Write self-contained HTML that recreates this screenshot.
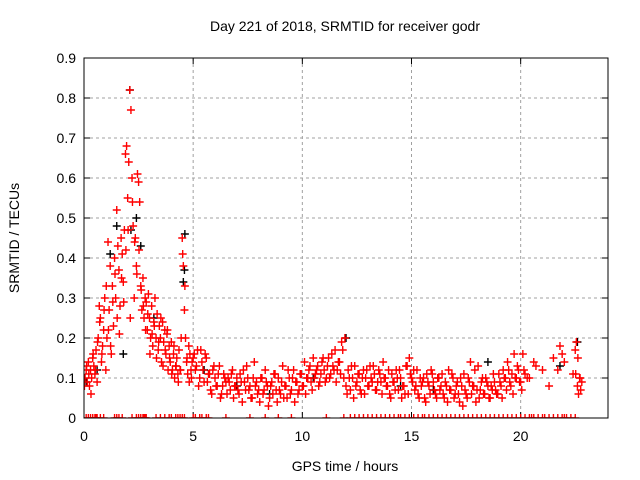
<!DOCTYPE html>
<html><head><meta charset="utf-8"><style>
html,body{margin:0;padding:0;background:#fff}
svg{display:block;font-family:"Liberation Sans",sans-serif}
</style></head><body>
<svg id="c" width="640" height="480" xmlns="http://www.w3.org/2000/svg">
<text x="345" y="31" font-size="14" text-anchor="middle">Day 221 of 2018, SRMTID for receiver godr</text>
<text x="345" y="471" font-size="14" text-anchor="middle">GPS time / hours</text>
<text transform="translate(19,238) rotate(-90)" font-size="14" text-anchor="middle">SRMTID / TECUs</text>
<g id="grid"></g><g id="ticks"></g>
<defs><clipPath id="pc"><rect x="84" y="58" width="524" height="360"/></clipPath></defs>
<g id="marks" clip-path="url(#pc)"></g>
<rect x="84" y="58" width="524" height="360" fill="none" stroke="#000" stroke-width="1"/>
</svg>
<script>
const xTicks=[0,5,10,15,20];
const yTicks=[0,0.1,0.2,0.3,0.4,0.5,0.6,0.7,0.8,0.9];
const yTickLabels=["0","0.1","0.2","0.3","0.4","0.5","0.6","0.7","0.8","0.9"];
// red series: time (hours), SRMTID values
const redT=[0.05,0.1,0.15,0.2,0.25,0.3,0.35,0.4,0.45,0.5,0.55,0.6,0.65,0.7,0.75,0.8,0.85,0.9,0.95,1.0,1.05,1.1,1.15,1.2,1.25,1.3,1.35,1.4,1.45,1.5,1.55,1.6,1.65,1.7,1.75,1.8,1.85,1.9,1.95,2.0,2.05,2.1,2.15,2.2,2.25,2.3,2.35,2.4,2.45,2.5,2.55,2.6,2.65,2.7,2.75,2.8,2.85,2.9,2.95,3.0,3.05,3.1,3.15,3.2,3.25,3.3,3.35,3.4,3.45,3.5,3.55,3.6,3.65,3.7,3.75,3.8,3.85,3.9,3.95,4.0,4.05,4.1,4.15,4.2,4.25,4.3,4.35,4.4,4.45,4.5,4.55,4.6,4.65,4.7,4.75,4.8,4.85,4.9,4.95,5.0,5.1,5.2,5.3,5.4,5.5,5.6,5.7,5.8,5.9,6.0,6.1,6.2,6.3,6.4,6.5,6.6,6.7,6.8,6.9,7.0,7.1,7.2,7.3,7.4,7.5,7.6,7.7,7.8,7.9,8.0,8.1,8.2,8.3,8.4,8.5,8.6,8.7,8.8,8.9,9.0,9.1,9.2,9.3,9.4,9.5,9.6,9.7,9.8,9.9,10.0,10.1,10.2,10.3,10.4,10.5,10.6,10.7,10.8,10.9,11.0,11.1,11.2,11.3,11.4,11.5,11.6,11.7,11.8,11.9,12.0,12.1,12.2,12.3,12.4,12.5,12.6,12.7,12.8,12.9,13.0,13.1,13.2,13.3,13.4,13.5,13.6,13.7,13.8,13.9,14.0,14.1,14.2,14.3,14.4,14.5,14.6,14.7,14.8,14.9,15.0,15.1,15.2,15.3,15.4,15.5,15.6,15.7,15.8,15.9,16.0,16.1,16.2,16.3,16.4,16.5,16.6,16.7,16.8,16.9,17.0,17.1,17.2,17.3,17.4,17.5,17.6,17.7,17.8,17.9,18.0,18.1,18.2,18.3,18.4,18.5,18.6,18.7,18.8,18.9,19.0,19.1,19.2,19.3,19.4,19.5,19.6,19.7,19.8,19.9,20.0,20.1,20.2,20.4,20.7,21.0,21.3,21.5,21.7,21.8,22.0,22.4,22.5,22.55,22.6,22.65,22.7,22.75,22.8];
const redV=[0.1,0.12,0.09,0.14,0.08,0.12,0.1,0.15,0.13,0.11,0.17,0.09,0.2,0.28,0.25,0.14,0.18,0.22,0.3,0.12,0.2,0.44,0.27,0.38,0.16,0.33,0.23,0.4,0.3,0.52,0.43,0.37,0.28,0.45,0.41,0.34,0.47,0.66,0.68,0.55,0.64,0.82,0.77,0.6,0.48,0.3,0.45,0.38,0.61,0.59,0.54,0.33,0.27,0.35,0.25,0.3,0.29,0.22,0.31,0.25,0.2,0.28,0.18,0.24,0.3,0.2,0.26,0.17,0.23,0.2,0.14,0.24,0.19,0.22,0.16,0.21,0.12,0.18,0.14,0.19,0.12,0.16,0.1,0.13,0.15,0.11,0.17,0.12,0.2,0.45,0.38,0.27,0.2,0.14,0.11,0.18,0.16,0.12,0.14,0.15,0.12,0.17,0.1,0.14,0.09,0.15,0.11,0.07,0.12,0.1,0.08,0.13,0.06,0.11,0.09,0.1,0.07,0.12,0.08,0.1,0.06,0.09,0.12,0.07,0.1,0.08,0.05,0.14,0.09,0.07,0.1,0.06,0.12,0.08,0.05,0.09,0.11,0.07,0.1,0.06,0.13,0.08,0.05,0.1,0.07,0.12,0.09,0.06,0.11,0.08,0.14,0.1,0.12,0.09,0.15,0.11,0.13,0.09,0.14,0.12,0.1,0.15,0.11,0.13,0.17,0.12,0.14,0.19,0.1,0.08,0.12,0.07,0.1,0.13,0.09,0.11,0.06,0.12,0.1,0.08,0.13,0.09,0.11,0.07,0.12,0.09,0.14,0.1,0.08,0.06,0.11,0.09,0.12,0.07,0.1,0.08,0.06,0.13,0.15,0.1,0.12,0.08,0.06,0.1,0.09,0.05,0.11,0.08,0.12,0.09,0.06,0.1,0.07,0.11,0.05,0.08,0.12,0.07,0.1,0.06,0.09,0.04,0.08,0.11,0.06,0.1,0.14,0.08,0.12,0.07,0.05,0.09,0.06,0.1,0.08,0.05,0.07,0.09,0.06,0.11,0.08,0.12,0.1,0.14,0.09,0.11,0.16,0.1,0.12,0.09,0.16,0.11,0.1,0.13,0.12,0.08,0.15,0.12,0.18,0.14,0.11,0.17,0.19,0.08,0.06,0.1,0.07,0.09];
// additional red observations (other satellites)
const red2T=[0.02,0.12,0.22,0.32,0.42,0.52,0.62,0.72,0.82,0.92,1.02,1.12,1.22,1.32,1.42,1.52,1.62,1.72,1.82,1.92,2.02,2.12,2.22,2.32,2.42,2.52,2.62,2.72,2.82,2.92,3.02,3.12,3.22,3.32,3.42,3.52,3.62,3.72,3.82,3.92,4.02,4.12,4.22,4.32,4.42,4.52,4.62,4.72,4.82,4.92,5.05,5.15,5.25,5.35,5.45,5.55,5.65,5.75,5.85,5.95,6.05,6.15,6.25,6.35,6.45,6.55,6.65,6.75,6.85,6.95,7.05,7.15,7.25,7.35,7.45,7.55,7.65,7.75,7.85,7.95,8.05,8.15,8.25,8.35,8.45,8.55,8.65,8.75,8.85,8.95,9.05,9.15,9.25,9.35,9.45,9.55,9.65,9.75,9.85,9.95,10.05,10.15,10.25,10.35,10.45,10.55,10.65,10.75,10.85,10.95,11.05,11.15,11.25,11.35,11.45,11.55,11.65,11.75,11.85,11.95,12.05,12.15,12.25,12.35,12.45,12.55,12.65,12.75,12.85,12.95,13.05,13.15,13.25,13.35,13.45,13.55,13.65,13.75,13.85,13.95,14.05,14.15,14.25,14.35,14.45,14.55,14.65,14.75,14.85,14.95,15.05,15.15,15.25,15.35,15.45,15.55,15.65,15.75,15.85,15.95,16.05,16.15,16.25,16.35,16.45,16.55,16.65,16.75,16.85,16.95,17.05,17.15,17.25,17.35,17.45,17.55,17.65,17.75,17.85,17.95,18.05,18.15,18.25,18.35,18.45,18.55,18.65,18.75,18.85,18.95,19.05,19.15,19.25,19.35,19.45,19.55,19.65,19.75,19.85,19.95,20.05,20.15,20.3,20.6,21.9,22.52,22.62,22.72];
const red2V=[0.08,0.13,0.11,0.06,0.16,0.12,0.19,0.24,0.16,0.27,0.33,0.22,0.18,0.29,0.36,0.25,0.21,0.35,0.29,0.42,0.47,0.25,0.54,0.44,0.36,0.42,0.32,0.28,0.22,0.26,0.16,0.21,0.23,0.15,0.19,0.25,0.13,0.17,0.22,0.15,0.11,0.18,0.13,0.09,0.12,0.41,0.33,0.15,0.09,0.1,0.16,0.13,0.08,0.17,0.12,0.16,0.09,0.11,0.06,0.13,0.08,0.11,0.05,0.08,0.1,0.06,0.09,0.11,0.05,0.08,0.07,0.11,0.04,0.09,0.13,0.07,0.05,0.1,0.08,0.06,0.04,0.1,0.07,0.09,0.03,0.08,0.06,0.11,0.04,0.07,0.09,0.05,0.08,0.12,0.06,0.1,0.04,0.09,0.07,0.11,0.08,0.06,0.1,0.13,0.07,0.1,0.12,0.08,0.11,0.15,0.09,0.13,0.1,0.16,0.12,0.09,0.14,0.11,0.17,0.2,0.06,0.1,0.13,0.05,0.08,0.11,0.07,0.1,0.06,0.12,0.08,0.1,0.13,0.07,0.09,0.11,0.06,0.1,0.08,0.12,0.05,0.09,0.07,0.1,0.12,0.05,0.08,0.13,0.06,0.11,0.09,0.07,0.12,0.05,0.08,0.1,0.04,0.09,0.06,0.11,0.07,0.05,0.1,0.08,0.06,0.09,0.04,0.07,0.11,0.05,0.08,0.06,0.1,0.03,0.07,0.05,0.09,0.06,0.08,0.04,0.13,0.07,0.1,0.06,0.09,0.05,0.08,0.11,0.07,0.06,0.09,0.05,0.1,0.07,0.12,0.08,0.06,0.1,0.13,0.09,0.07,0.12,0.1,0.14,0.16,0.11,0.15,0.1,0.07];
// black (second series) values
const blkT=[0.1,0.6,1.2,1.5,1.8,2.1,2.15,2.4,2.6,3.2,4.55,4.6,4.62,5.5,7.0,8.5,10.5,12.0,14.5,16.0,18.5,21.8,22.6];
const blkV=[0.09,0.12,0.41,0.48,0.16,0.82,0.47,0.5,0.43,0.25,0.34,0.37,0.46,0.12,0.08,0.06,0.1,0.2,0.08,0.07,0.14,0.13,0.19];
// times with zero SRMTID
const zeroT=[0.1,0.2,0.3,0.4,0.5,0.55,0.6,0.75,0.9,1.4,1.5,1.6,1.75,2.2,2.4,2.5,2.6,2.7,2.75,2.8,2.85,3.3,3.5,3.7,3.9,4.0,4.2,4.3,4.4,4.5,4.6,5.0,5.1,5.3,5.4,5.6,5.7,6.5,7.6,8.3,8.9,9.5,11.1,11.9,12.2,12.4,12.6,12.8,13.0,13.2,13.4,13.6,13.8,14.0,14.2,14.4,14.5,14.7,14.9,15.1,15.3,15.5,15.6,15.8,16.0,16.2,16.4,16.6,16.8,17.0,17.2,17.4,17.6,17.8,18.0,18.2,18.4,18.6,18.8,19.0,19.2,19.4,19.6,19.8,20.0,20.2,20.4,20.5,20.6,20.8,21.0,21.1,21.3,21.5,21.7,21.9,22.0,22.1,22.3,22.5];
const X=t=>84+t*(524/24), Y=v=>418-v*400;
const NS="http://www.w3.org/2000/svg";
const grid=document.getElementById('grid'),ticks=document.getElementById('ticks'),marks=document.getElementById('marks');
function mk(tag,a,p){const e=document.createElementNS(NS,tag);for(const k in a)e.setAttribute(k,a[k]);p.appendChild(e);return e;}
yTicks.forEach((v,i)=>{
  if(v>0&&v<0.9){const g=mk('line',{x1:84,x2:608,y1:Y(v),y2:Y(v),stroke:'#a0a0a0','stroke-dasharray':'3,3'},grid);
  
  }
  mk('line',{x1:84,x2:90,y1:Y(v),y2:Y(v),stroke:'#000'},ticks);
  mk('line',{x1:602,x2:608,y1:Y(v),y2:Y(v),stroke:'#000'},ticks);
  const t=mk('text',{x:76,y:Y(v)+5,'font-size':14,'text-anchor':'end'},ticks);t.textContent=yTickLabels[i];
  
  
});
xTicks.forEach(v=>{
  if(v>0){const g=mk('line',{x1:X(v),x2:X(v),y1:58,y2:418,stroke:'#a0a0a0','stroke-dasharray':'3,3'},grid);
  
  }
  mk('line',{x1:X(v),x2:X(v),y1:418,y2:412,stroke:'#000'},ticks);
  mk('line',{x1:X(v),x2:X(v),y1:58,y2:64,stroke:'#000'},ticks);
  const t=mk('text',{x:X(v),y:441,'font-size':14,'text-anchor':'middle'},ticks);t.textContent=String(v);
  
  
});
function plus(t,v,col,name){
  const x=X(t),y=Y(v);
  const p=mk('path',{d:`M${x-4},${y}h8M${x},${y-4}v8`,stroke:col,'stroke-width':1.4,fill:'none'},marks);
  
  
}
blkT.forEach((t,i)=>plus(t,blkV[i],'#000','black-point'));
redT.forEach((t,i)=>plus(t,redV[i],'#ff0000','red-point'));
red2T.forEach((t,i)=>plus(t,red2V[i],'#ff0000','red-point'));
zeroT.forEach(t=>plus(t,0,'#ff0000','zero-point'));
</script>
</body></html>
